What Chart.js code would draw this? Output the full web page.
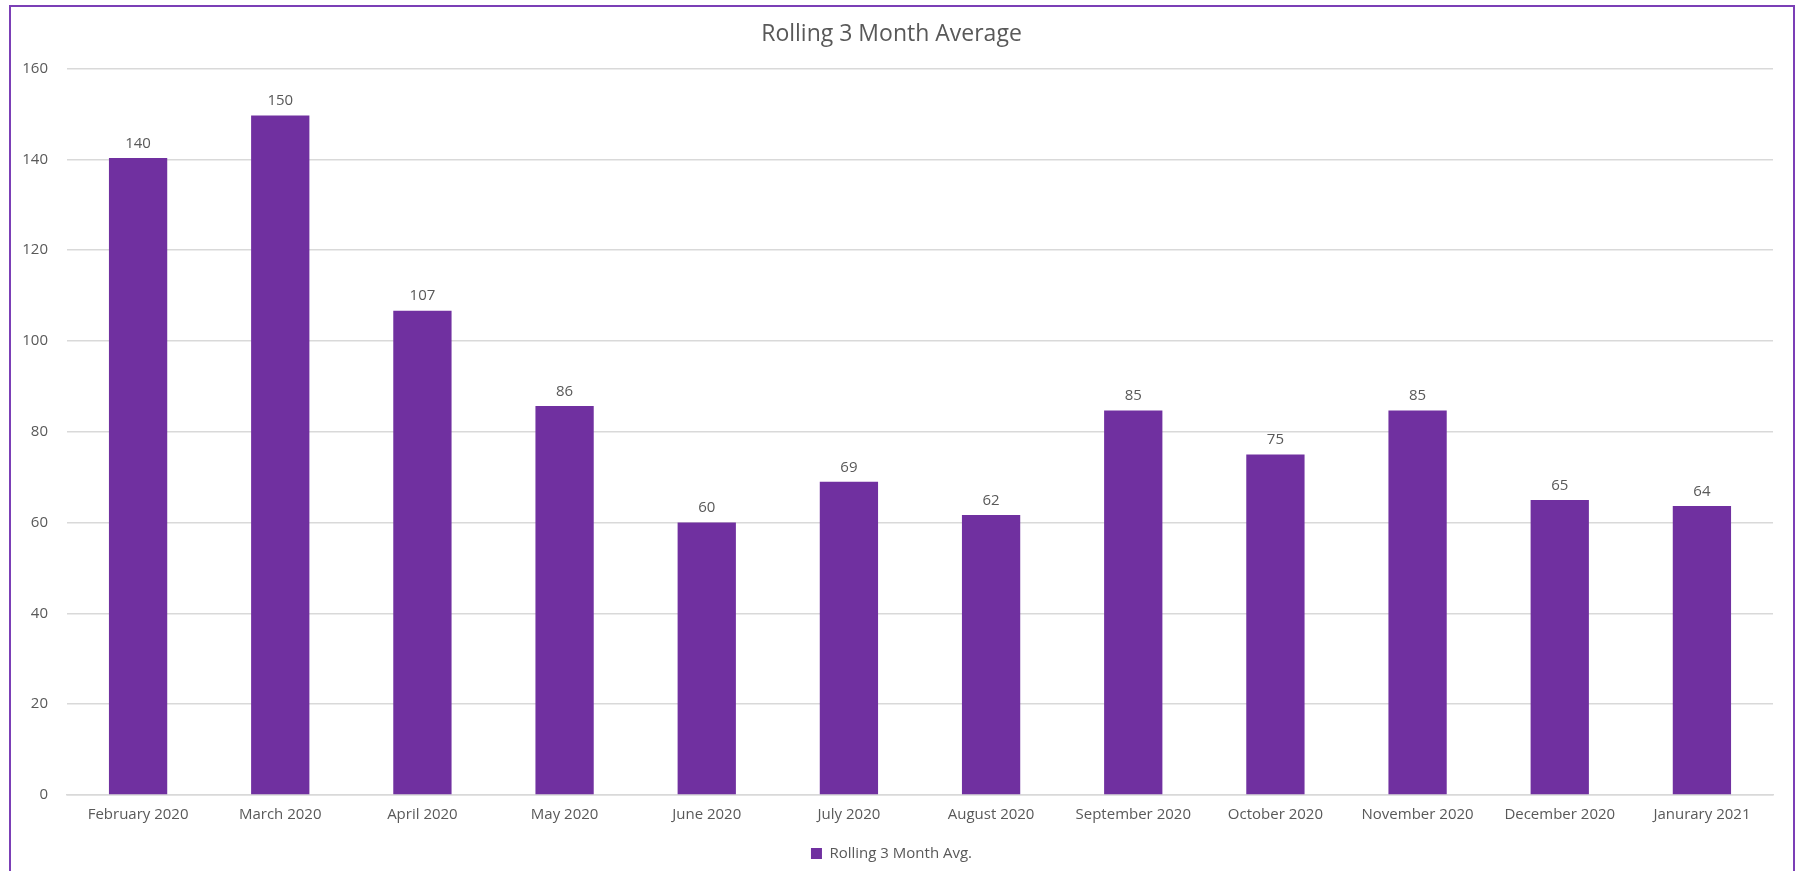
<!DOCTYPE html>
<html>
<head>
<meta charset="utf-8">
<script src="https://cdn.jsdelivr.net/npm/chart.js@4"></script>
<style>
  html, body { margin: 0; padding: 0; overflow: hidden; background: #fff; }
  #wrap { position: absolute; left: 0; top: 0; width: 1796px; height: 871px; }
  #frame { position: absolute; left: 9px; top: 5px; width: 1782px; height: 900px;
           border: 2px solid #7b3fb6; pointer-events: none; }
</style>
</head>
<body>
<div id="wrap"><canvas id="myChart" width="1796" height="871"></canvas></div>
<div id="frame"></div>
<script>
var months = ['February 2020', 'March 2020', 'April 2020', 'May 2020', 'June 2020', 'July 2020',
              'August 2020', 'September 2020', 'October 2020', 'November 2020', 'December 2020', 'Janurary 2021'];
var rollingAvg = [140.33, 149.67, 106.67, 85.67, 60, 69, 61.67, 84.67, 75, 84.67, 65, 63.67];
var yTicks = [0, 20, 40, 60, 80, 100, 120, 140, 160];

var txt = '#595959';
var font = "'Open Sans', 'Noto Sans', sans-serif";

// labels over the bars
var barLabels = {
  id: 'barLabels',
  afterDatasetsDraw: function(chart) {
    var ctx = chart.ctx;
    var meta = chart.getDatasetMeta(0);
    ctx.save();
    ctx.fillStyle = txt;
    ctx.font = '15px ' + font;
    ctx.textAlign = 'center';
    ctx.textBaseline = 'bottom';
    meta.data.forEach(function(bar, i) {
      ctx.fillText(Math.round(rollingAvg[i]), bar.x, bar.y - 7);
    });
    ctx.restore();
  }
};

function charts() {
  var ctx = document.getElementById('myChart');
  return new Chart(ctx, {
    type: 'bar',
    data: {
      labels: months,
      datasets: [{
        label: 'Rolling 3 Month Avg.',
        data: rollingAvg,
        backgroundColor: '#7030a0',
        borderColor: '#7030a0',
        borderWidth: 0,
        barPercentage: 0.41,
        categoryPercentage: 1
      }]
    },
    options: {
      responsive: false,
      animation: false,
      layout: { padding: { left: 10, right: 23, top: 0, bottom: 0 } },
      plugins: {
        title: {
          display: true,
          text: 'Rolling 3 Month Average',
          color: txt,
          font: { family: font, size: 23, weight: 'normal' },
          padding: { top: 21, bottom: 20 }
        },
        legend: {
          position: 'bottom',
          labels: {
            color: txt,
            font: { family: font, size: 15 },
            boxWidth: 11,
            boxHeight: 11,
            padding: 11
          }
        },
        tooltip: { enabled: false }
      },
      scales: {
        x: {
          grid: { display: false, drawTicks: false },
          border: { display: true, color: '#d9d9d9', width: 1.5 },
          ticks: { color: txt, font: { family: font, size: 15 }, padding: 11, maxRotation: 0 }
        },
        y: {
          min: 0,
          max: 160,
          afterFit: function(scale) { scale.width = 57; },
          afterBuildTicks: function(scale) {
            scale.ticks = yTicks.map(function(v) { return { value: v }; });
          },
          grid: { color: '#d9d9d9', lineWidth: 1.5, drawTicks: false },
          border: { display: false },
          ticks: { color: txt, font: { family: font, size: 15 }, padding: 19 }
        }
      }
    },
    plugins: [barLabels]
  });
}
charts();
</script>
</body>
</html>
